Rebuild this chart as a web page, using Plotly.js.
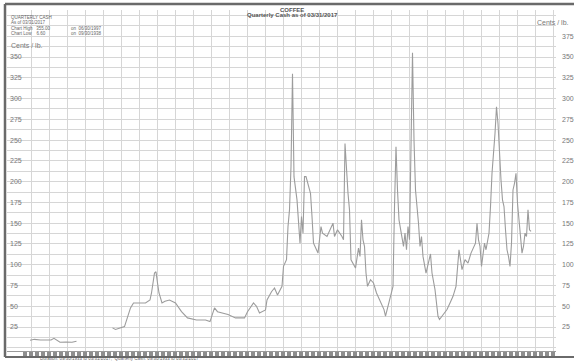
<!DOCTYPE html>
<html>
<head>
<meta charset="utf-8">
<script src="https://cdn.plot.ly/plotly-3.0.1.min.js"></script>
<style>
  html, body { margin: 0; padding: 0; background: #ffffff; }
  #chart { width: 574px; height: 363px; }
</style>
</head>
<body>
<div id="chart"></div>
<script>
// Coffee, quarterly cash price (cents per lb.), quarter-end points as decimal years.
const preWarYears  = [1933.75, 1934.5, 1935.5, 1936.5, 1937.25, 1937.75, 1938.25, 1938.75, 1939.75, 1940.75, 1941.5];
const preWarValues = [9.0, 10.2, 9.4, 9.0, 9.4, 11.4, 9.0, 6.6, 6.8, 6.6, 8.0];

const postWarYears = [
  1947.5, 1948.0, 1949.5, 1950.0, 1950.5, 1951.0, 1953.0, 1953.75, 1954.0, 1954.5,
  1954.75, 1955.0, 1955.25, 1955.75, 1956.25, 1957.0, 1958.0, 1959.0, 1960.0, 1961.5,
  1963.0, 1963.75, 1964.5, 1965.0, 1966.75, 1968.0, 1969.5, 1970.0, 1971.0, 1971.5,
  1972.0, 1973.0, 1973.25, 1974.0, 1974.5, 1975.0, 1975.5, 1975.75, 1976.0, 1976.5,
  1976.75, 1977.0, 1977.25, 1977.5, 1977.75, 1978.0, 1978.25, 1978.75, 1979.0, 1979.25,
  1979.5, 1979.75, 1980.5, 1980.75, 1981.0, 1981.5, 1981.75, 1982.25, 1982.5, 1983.25,
  1983.75, 1984.25, 1984.5, 1985.0, 1985.75, 1986.0, 1986.25, 1986.5, 1986.75, 1987.0,
  1987.25, 1988.0, 1988.5, 1988.75, 1989.0, 1989.25, 1989.5, 1989.75, 1990.0, 1990.5,
  1991.0, 1991.5, 1992.0, 1992.75, 1993.0, 1993.5, 1994.0, 1994.25, 1994.5, 1994.75,
  1995.0, 1995.25, 1996.0, 1996.25, 1996.5, 1996.75, 1997.0, 1997.25, 1997.5, 1997.75,
  1998.0, 1998.5, 1998.75, 1999.0, 1999.25, 1999.75, 2000.5, 2000.75, 2001.25, 2001.5,
  2001.75, 2002.0, 2002.75, 2003.25, 2003.75, 2004.25, 2004.75, 2005.0, 2005.25, 2005.75,
  2006.25, 2006.75, 2007.25, 2008.0, 2008.25, 2008.5, 2008.75, 2009.0, 2009.25, 2009.5,
  2009.75, 2010.25, 2010.5, 2010.75, 2011.25, 2011.5, 2011.75, 2012.0, 2012.25, 2012.5,
  2012.75, 2013.0, 2013.25, 2013.5, 2013.75, 2014.0, 2014.25, 2014.5, 2014.75, 2015.0,
  2015.25, 2015.5, 2015.75, 2016.0, 2016.25, 2016.5, 2016.75, 2017.0, 2017.25
];
const postWarValues = [
  24, 22, 25.5, 37.5, 48, 54, 54, 57.5, 66, 90,
  91.5, 78, 66, 54, 56, 57.5, 54, 43.5, 36, 33.5,
  33.5, 31.5, 48, 43.5, 40, 36, 36, 43.5, 54, 50,
  42, 45.5, 57.5, 67.5, 72, 63.5, 70, 74, 98, 106,
  146, 166, 218, 330, 206, 194, 178, 126, 158, 138,
  206, 206, 186, 158, 126, 118, 114, 146, 138, 134,
  142, 150, 134, 142, 134, 130, 246, 206, 186, 166,
  106, 96, 120, 110, 154, 130, 122, 90, 74, 82,
  78, 66, 58, 46, 38, 54, 66, 74, 170, 242,
  190, 154, 122, 138, 118, 146, 130, 230, 355, 250,
  190, 150, 122, 134, 110, 90, 113, 90, 70, 54,
  38, 34, 42, 46, 54, 62, 74, 94, 118, 94,
  106, 102, 114, 126, 150, 130, 122, 98, 110, 126,
  118, 138, 170, 210, 258, 290, 270, 230, 202, 178,
  170, 142, 118, 110, 98, 126, 190, 198, 210, 174,
  150, 134, 114, 122, 138, 134, 166, 142, 140
];

// Price scale labels
const leftTicks  = [25, 50, 75, 100, 125, 150, 175, 200, 225, 250, 275, 300, 325, 350];
const rightTicks = [25, 50, 75, 100, 125, 150, 175, 200, 225, 250, 275, 300, 325, 350, 375];

const commodity = 'COFFEE';
const seriesName = 'QUARTERLY CASH';
const unitLabel = 'Cents / lb.';

// Decimal quarter-end year -> MM/DD/YYYY
function quarterDate(t) {
  let yr = Math.floor(t + 1e-9);
  let frac = Math.round((t - yr) * 4);
  if (frac === 0) { yr -= 1; frac = 4; }
  const md = { 1: '03/31', 2: '06/30', 3: '09/30', 4: '12/31' }[frac];
  return md + '/' + yr;
}

// Whole series, with a break for the wartime gap
const allYears  = preWarYears.concat([1944.5], postWarYears);
const allValues = preWarValues.concat([null], postWarValues);

let hiIdx = 0, loIdx = 0;
allValues.forEach((v, i) => {
  if (v === null) return;
  if (v > allValues[hiIdx]) hiIdx = i;
  if (v < allValues[loIdx]) loIdx = i;
});
const lastDate  = quarterDate(allYears[allYears.length - 1]);
const firstDate = quarterDate(allYears[0]);

const txtColor = '#777777';
const gridColor = '#d6d6d6';
const baseFont = { family: 'Liberation Sans, Arial, sans-serif', size: 7, color: txtColor };
const smallFont = { family: 'Liberation Sans, Arial, sans-serif', size: 4.5, color: '#666' };

// plot frame in pixels: x 7..556, y 10..351
const W = 574, H = 363, L = 7, R = 18, T = 10, B = 12;
const pw = W - L - R, ph = H - T - B;
const px = x => (x - L) / pw;
const py = y => (H - B - y) / ph;

const traces = [
  {
    x: allYears, y: allValues, type: 'scatter', mode: 'lines',
    line: { color: '#9c9c9c', width: 1.1 },
    connectgaps: false, hoverinfo: 'skip', showlegend: false
  },
  {
    x: [allYears[0]], y: [allValues[0]], yaxis: 'y2', type: 'scatter', mode: 'lines',
    line: { color: 'rgba(0,0,0,0)' }, hoverinfo: 'skip', showlegend: false
  }
];

const yRange = [-3.85, 406.6];

const layout = {
  width: W, height: H,
  margin: { l: L, r: R, t: T, b: B, pad: 0 },
  paper_bgcolor: '#ffffff', plot_bgcolor: '#ffffff',
  font: baseFont,
  showlegend: false,
  xaxis: {
    range: [1929.917, 2021.417],
    showgrid: true, gridcolor: gridColor, gridwidth: 1,
    tickmode: 'linear', tick0: 1945.917, dtick: 3,
    showticklabels: false,
    ticks: 'outside', ticklen: 5, tickwidth: 4, tickcolor: '#8e8e8e',
    minor: { tickmode: 'linear', tick0: 1929.917, dtick: 1, ticks: 'outside', ticklen: 5, tickwidth: 4, tickcolor: '#8e8e8e', showgrid: false },
    showline: true, linecolor: '#9a9a9a', linewidth: 1,
    zeroline: false, fixedrange: true
  },
  yaxis: {
    range: yRange,
    tickmode: 'array', tickvals: leftTicks, ticktext: leftTicks.map(String),
    ticklabelposition: 'inside', ticks: '',
    tickfont: baseFont,
    showgrid: true, gridcolor: gridColor, gridwidth: 1,
    minor: { tickmode: 'linear', tick0: 0, dtick: 12.5, showgrid: true, gridcolor: gridColor, gridwidth: 1 },
    zeroline: false, showline: false, fixedrange: true
  },
  yaxis2: {
    range: yRange, overlaying: 'y', side: 'right',
    tickmode: 'array', tickvals: rightTicks, ticktext: rightTicks.map(String),
    ticks: '', ticklabelstandoff: 5,
    tickfont: baseFont,
    showgrid: false, zeroline: false, showline: false, fixedrange: true
  },
  shapes: [
    // outer frame
    { type: 'line', xref: 'paper', yref: 'paper', x0: px(5), x1: px(574), y0: py(4), y1: py(4), line: { color: '#6a6a6a', width: 2.5 } },
    { type: 'line', xref: 'paper', yref: 'paper', x0: px(5), x1: px(5), y0: py(4), y1: py(357), line: { color: '#6a6a6a', width: 2.5 } },
    { type: 'line', xref: 'paper', yref: 'paper', x0: px(5), x1: px(574), y0: py(357), y1: py(357), line: { color: '#6a6a6a', width: 2 } }
  ],
  annotations: [
    { text: '<b>' + commodity + '</b>', xref: 'paper', yref: 'paper', x: px(292), y: py(9.5), xanchor: 'center', yanchor: 'middle', showarrow: false, font: { family: baseFont.family, size: 6, color: '#555' } },
    { text: '<b>Quarterly Cash as of ' + lastDate + '</b>', xref: 'paper', yref: 'paper', x: px(292), y: py(15.5), xanchor: 'center', yanchor: 'middle', showarrow: false, font: { family: baseFont.family, size: 6, color: '#555' } },

    { text: seriesName, xref: 'paper', yref: 'paper', x: px(9), y: py(18), xanchor: 'left', yanchor: 'middle', showarrow: false, font: smallFont },
    { text: 'As of ' + lastDate, xref: 'paper', yref: 'paper', x: px(9), y: py(23), xanchor: 'left', yanchor: 'middle', showarrow: false, font: smallFont },
    { text: 'Chart High&nbsp;&nbsp;&nbsp;' + allValues[hiIdx].toFixed(2), xref: 'paper', yref: 'paper', x: px(9), y: py(29), xanchor: 'left', yanchor: 'middle', showarrow: false, font: smallFont },
    { text: 'Chart Low&nbsp;&nbsp;&nbsp;&nbsp;' + allValues[loIdx].toFixed(2), xref: 'paper', yref: 'paper', x: px(9), y: py(33), xanchor: 'left', yanchor: 'middle', showarrow: false, font: smallFont },
    { text: 'on&nbsp;&nbsp;' + quarterDate(allYears[hiIdx]), xref: 'paper', yref: 'paper', x: px(69), y: py(29), xanchor: 'left', yanchor: 'middle', showarrow: false, font: smallFont },
    { text: 'on&nbsp;&nbsp;' + quarterDate(allYears[loIdx]), xref: 'paper', yref: 'paper', x: px(69), y: py(33), xanchor: 'left', yanchor: 'middle', showarrow: false, font: smallFont },

    { text: unitLabel, xref: 'paper', yref: 'paper', x: px(9), y: py(45), xanchor: 'left', yanchor: 'middle', showarrow: false, font: baseFont },
    { text: unitLabel, xref: 'paper', yref: 'paper', x: px(535), y: py(23), xanchor: 'left', yanchor: 'middle', showarrow: false, font: baseFont },

    { text: 'Duration: ' + firstDate + ' to ' + lastDate + ';  Quarterly Cash: ' + firstDate + ' to ' + lastDate, xref: 'paper', yref: 'paper', x: px(38), y: py(363), xanchor: 'left', yanchor: 'bottom', showarrow: false, font: { family: baseFont.family, size: 4.5, color: '#666' } }
  ]
};

Plotly.newPlot('chart', traces, layout, { displayModeBar: false, staticPlot: true });
</script>
</body>
</html>
